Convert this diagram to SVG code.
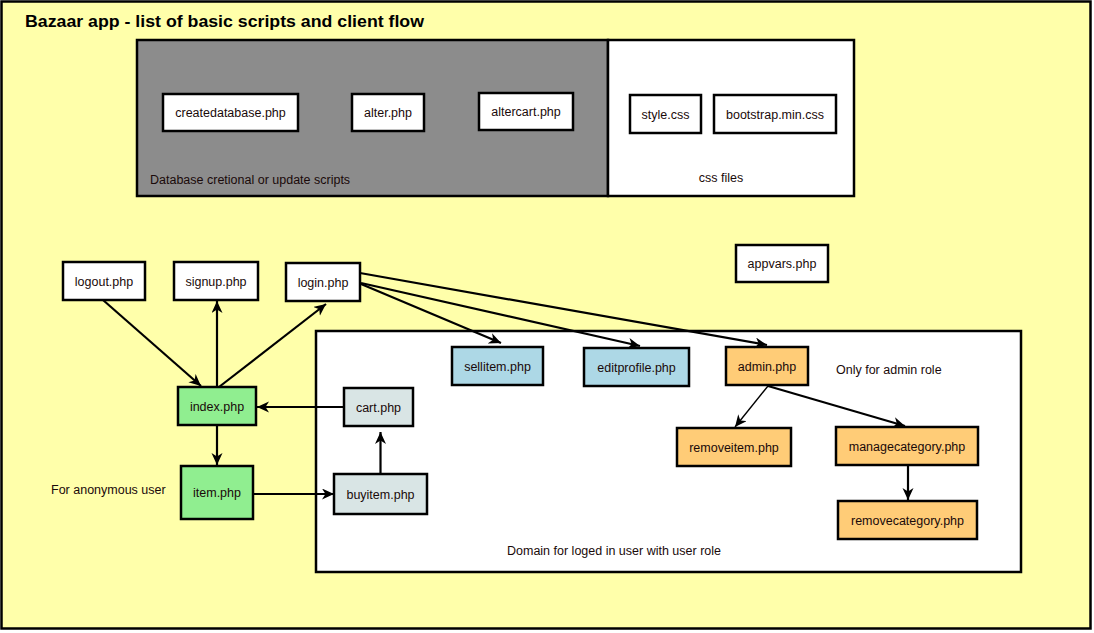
<svg xmlns="http://www.w3.org/2000/svg" width="1094" height="633" viewBox="0 0 1094 633">
<style>
.box{stroke:#000;stroke-width:2.5}
.w{fill:#fff}
.g{fill:#90EE90}
.b{fill:#ADD8E6}
.c{fill:#D9E5E5}
.o{fill:#FFCC77}
.t{font-family:"Liberation Sans",Arial,sans-serif;font-size:12.5px;fill:#1a0a0a;text-anchor:middle}
.l{font-family:"Liberation Sans",Arial,sans-serif;font-size:12.5px;fill:#1a0a0a}
.e{stroke:#000;stroke-width:2.2;fill:none;marker-end:url(#ah)}
.e1{stroke:#000;stroke-width:1.4;fill:none;marker-end:url(#ah)}
</style>
<defs>
<marker id="ah" markerUnits="userSpaceOnUse" markerWidth="14" markerHeight="12" refX="12" refY="5.5" orient="auto" viewBox="0 0 14 12">
<path d="M0,0 L12,5.5 L0,11 L3.5,5.5 Z" fill="#000"/>
</marker>
</defs>
<rect x="1.5" y="1.5" width="1089" height="627" fill="#FFFFAA" stroke="#000" stroke-width="2.5"/>
<text x="25" y="27" font-family="Liberation Sans,Arial,sans-serif" font-size="16.5" font-weight="bold" textLength="399" lengthAdjust="spacingAndGlyphs">Bazaar app - list of basic scripts and client flow</text>

<g id="db-group">
<rect x="137" y="40" width="471" height="156" fill="#8C8C8C" class="box"/>
<text class="l" x="150" y="184">Database cretional or update scripts</text>
</g>
<g id="css-group">
<rect x="608" y="40" width="246" height="156" class="box w"/>
<text class="t" x="721" y="182">css files</text>
</g>
<g id="domain-group">
<rect x="316" y="331" width="705" height="241" class="box w"/>
<text class="l" x="507" y="555">Domain for loged in user with user role</text>
<text class="l" x="836" y="374">Only for admin role</text>
</g>
<text class="l" x="51" y="494">For anonymous user</text>

<g id="createdatabase"><rect x="163" y="94" width="135" height="37" class="box w"/><text class="t" x="230.5" y="117">createdatabase.php</text></g>
<g id="alter"><rect x="352" y="94" width="72" height="37" class="box w"/><text class="t" x="388" y="117">alter.php</text></g>
<g id="altercart"><rect x="479" y="93" width="94" height="37" class="box w"/><text class="t" x="526" y="116">altercart.php</text></g>
<g id="style"><rect x="630" y="95" width="71" height="38" class="box w"/><text class="t" x="665.5" y="118.5">style.css</text></g>
<g id="bootstrap"><rect x="714" y="95" width="122" height="38" class="box w"/><text class="t" x="775" y="118.5">bootstrap.min.css</text></g>
<g id="appvars"><rect x="736" y="245" width="92" height="37" class="box w"/><text class="t" x="782" y="268">appvars.php</text></g>

<g id="logout"><rect x="63" y="262" width="82" height="38" class="box w"/><text class="t" x="104" y="285.5">logout.php</text></g>
<g id="signup"><rect x="174" y="262" width="84" height="38" class="box w"/><text class="t" x="216" y="285.5">signup.php</text></g>
<g id="login"><rect x="286" y="263" width="74" height="38" class="box w"/><text class="t" x="323" y="286.5">login.php</text></g>
<g id="index"><rect x="178" y="387" width="78" height="38" class="box g"/><text class="t" x="217" y="410.5">index.php</text></g>
<g id="item"><rect x="181" y="466" width="72" height="53" class="box g"/><text class="t" x="217" y="497">item.php</text></g>
<g id="cart"><rect x="344" y="388" width="69" height="38" class="box c"/><text class="t" x="378.5" y="411.5">cart.php</text></g>
<g id="buyitem"><rect x="334" y="474" width="93" height="40" class="box c"/><text class="t" x="380.5" y="498.5">buyitem.php</text></g>
<g id="sellitem"><rect x="452" y="347" width="91" height="38" class="box b"/><text class="t" x="497.5" y="370.5">sellitem.php</text></g>
<g id="editprofile"><rect x="584" y="348" width="105" height="38" class="box b"/><text class="t" x="636.5" y="371.5">editprofile.php</text></g>
<g id="admin"><rect x="726" y="347" width="82" height="38" class="box o"/><text class="t" x="767" y="370.5">admin.php</text></g>
<g id="removeitem"><rect x="677" y="428" width="114" height="38" class="box o"/><text class="t" x="734" y="451.5">removeitem.php</text></g>
<g id="managecategory"><rect x="836" y="427" width="142" height="38" class="box o"/><text class="t" x="907" y="450.5">managecategory.php</text></g>
<g id="removecategory"><rect x="838" y="501" width="139" height="38" class="box o"/><text class="t" x="907.5" y="524.5">removecategory.php</text></g>

<g id="connectors">
<path class="e" d="M103,300 L201,386"/>
<path class="e" d="M217,387 L217,301"/>
<path class="e" d="M219,387 L326,304"/>
<path class="e" d="M344,407 L257,407"/>
<path class="e" d="M217,425 L217,465"/>
<path class="e" d="M253,494 L334,494"/>
<path class="e" d="M380.5,474 L380.5,432"/>
<path class="e" d="M360,273 L767,345"/>
<path class="e" d="M361,283 L640,346"/>
<path class="e" d="M361,284 L501,343"/>
<path class="e1" d="M768,386 L735,427"/>
<path class="e" d="M768,386 L905,426"/>
<path class="e" d="M908,465 L908,500"/>
</g>
</svg>
